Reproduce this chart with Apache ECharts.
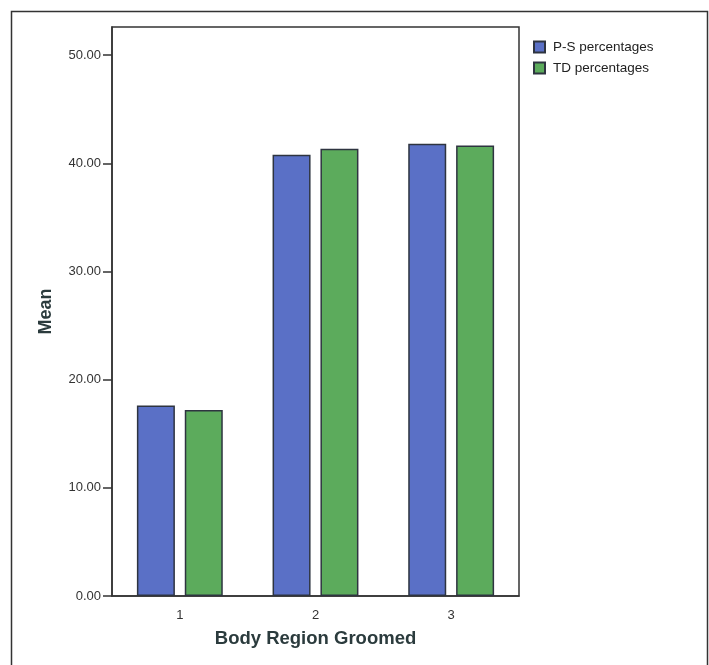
<!DOCTYPE html>
<html>
<head>
<meta charset="utf-8">
<script src="https://cdn.jsdelivr.net/npm/echarts@6/dist/echarts.min.js"></script>
<style>html,body{margin:0;padding:0;background:#fff;}#c{width:709px;height:665px;}</style>
</head>
<body>
<div id="c"></div>
<script>
const categories = ['1', '2', '3'];
const psPercentages = [17.6, 40.8, 41.8];
const tdPercentages = [17.2, 41.35, 41.65];
const seriesNames = ['P-S percentages', 'TD percentages'];
const yTicks = [0, 10, 20, 30, 40, 50];

const chart = echarts.init(document.getElementById('c'), null, {renderer: 'canvas'});
chart.setOption({
  animation: false,
  backgroundColor: '#ffffff',
  graphic: [{
    type: 'rect', left: 9, top: 9,
    shape: {width: 696, height: 670},
    style: {fill: 'none', stroke: '#333', lineWidth: 1.5},
    silent: true, z: -1
  }],
  grid: {left: 112, right: 190, top: 27, bottom: 69, containLabel: false,
         show: true, borderColor: '#333', borderWidth: 1.5, backgroundColor: 'transparent'},
  legend: {
    orient: 'vertical', left: 528, top: 35, itemWidth: 11, itemHeight: 11, itemGap: 7,
    icon: 'rect',
    textStyle: {fontFamily: 'Liberation Sans, Arial', fontSize: 13.5, color: '#222', padding: [0, 0, 0, 3]},
    data: seriesNames
  },
  xAxis: {
    type: 'category', data: categories,
    axisLine: {lineStyle: {color: '#333', width: 1.5}},
    axisTick: {alignWithLabel: true, length: 8, lineStyle: {color: '#333', width: 1.5}},
    axisLabel: {fontFamily: 'Liberation Sans, Arial', fontSize: 13, color: '#333', margin: 13},
    name: 'Body Region Groomed', nameLocation: 'middle', nameGap: 33,
    nameTextStyle: {fontFamily: 'Liberation Sans, Arial', fontSize: 18.5, fontWeight: 'bold', color: '#2b3b3d'}
  },
  yAxis: {
    type: 'value', min: yTicks[0], max: 52.6, interval: 10,
    axisLine: {show: true, lineStyle: {color: '#333', width: 1.5}},
    axisTick: {show: true, length: 9, customValues: yTicks, lineStyle: {color: '#333', width: 1.5}},
    splitLine: {show: false},
    axisLabel: {fontFamily: 'Liberation Sans, Arial', fontSize: 13, color: '#333', margin: 11,
      customValues: yTicks, formatter: v => Number(v).toFixed(2)},
    name: 'Mean', nameLocation: 'middle', nameGap: 57,
    nameTextStyle: {fontFamily: 'Liberation Sans, Arial', fontSize: 18, fontWeight: 'bold', color: '#2b3b3d'}
  },
  series: [
    {name: seriesNames[0], type: 'bar', data: psPercentages, barWidth: 38, barGap: '26%',
     itemStyle: {color: '#5a70c6', borderColor: '#2e3440', borderWidth: 1.5}},
    {name: seriesNames[1], type: 'bar', data: tdPercentages, barWidth: 38,
     itemStyle: {color: '#5cab5c', borderColor: '#2e3440', borderWidth: 1.5}}
  ]
});
</script>
</body>
</html>
